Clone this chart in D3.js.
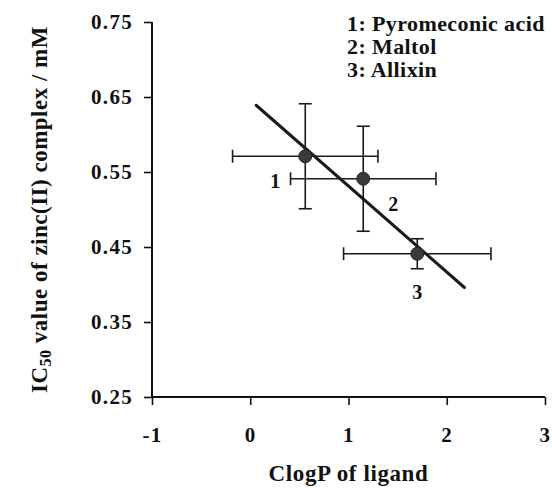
<!DOCTYPE html>
<html>
<head>
<meta charset="utf-8">
<script src="https://cdn.jsdelivr.net/npm/d3@7"></script>
<style>
  body { margin: 0; background: #fff; }
  svg text { font-family: "Liberation Serif", "Times New Roman", serif; font-weight: bold; fill: #111; }
</style>
</head>
<body>
<div id="chart"></div>
<script>
// data
var ligands = ["1", "2", "3"];
var ligandNames = ["Pyromeconic acid", "Maltol", "Allixin"];
var clogP = [0.56, 1.15, 1.70];
var clogPErr = [0.74, 0.74, 0.75];
var ic50 = [0.571, 0.541, 0.441];
var ic50Err = [0.070, 0.070, 0.020];
var fitX = [0.06, 2.18];
var fitY = [0.639, 0.396];
var xTicks = [-1, 0, 1, 2, 3];
var yTicks = [0.25, 0.35, 0.45, 0.55, 0.65, 0.75];

var width = 552, height = 488;
var margin = { left: 152, right: 7, top: 22, bottom: 91 };

var svg = d3.select("#chart")
	.append("svg")
	.attr("width", width)
	.attr("height", height);

var x = d3.scaleLinear()
	.domain([-1, 3])
	.range([margin.left, width - margin.right]);

var y = d3.scaleLinear()
	.domain([0.25, 0.75])
	.range([height - margin.bottom, margin.top]);

// axes (hyphen for the minus, as in the original)
var xAxis = svg.append("g")
	.attr("transform", "translate(0," + y(0.25) + ")")
	.call(d3.axisBottom(x).tickValues(xTicks).tickSize(8).tickPadding(22)
		.tickFormat(function(d) { return String(d); }));

var yAxis = svg.append("g")
	.attr("transform", "translate(" + x(-1) + ",0)")
	.call(d3.axisLeft(y).tickValues(yTicks).tickSize(8).tickPadding(11).tickFormat(d3.format(".2f")));

[xAxis, yAxis].forEach(function(a) {
	a.select(".domain").attr("stroke", "#111").attr("stroke-width", 2);
	a.selectAll(".tick line").attr("stroke", "#111").attr("stroke-width", 1.6);
	a.selectAll(".tick text")
		.attr("fill", "#111")
		.style("font-size", "21px")
		.style("letter-spacing", "1.3px")
		.style("font-family", "'Liberation Serif', serif")
		.style("font-weight", "bold");
});
// plain domain lines without end caps
xAxis.select(".domain").attr("d", "M" + x(-1) + ",0H" + x(3));
yAxis.select(".domain").attr("d", "M0," + y(0.25) + "V" + y(0.75));

// regression line
svg.append("line")
	.attr("x1", x(fitX[0])).attr("y1", y(fitY[0]))
	.attr("x2", x(fitX[1])).attr("y2", y(fitY[1]))
	.attr("stroke", "#1a1a1a")
	.attr("stroke-width", 3)
	.attr("stroke-linecap", "round");

var cap = 6.5;
var g = svg.append("g");

ligands.forEach(function(d, i) {
	var cx = x(clogP[i]), cy = y(ic50[i]);
	var x0 = x(clogP[i] - clogPErr[i]), x1 = x(clogP[i] + clogPErr[i]);
	var y0 = y(ic50[i] - ic50Err[i]), y1 = y(ic50[i] + ic50Err[i]);
	var bars = g.append("g").attr("stroke", "#1a1a1a").attr("stroke-width", 1.6);
	bars.append("line").attr("x1", x0).attr("x2", x1).attr("y1", cy).attr("y2", cy);
	bars.append("line").attr("x1", x0).attr("x2", x0).attr("y1", cy - cap).attr("y2", cy + cap);
	bars.append("line").attr("x1", x1).attr("x2", x1).attr("y1", cy - cap).attr("y2", cy + cap);
	bars.append("line").attr("x1", cx).attr("x2", cx).attr("y1", y0).attr("y2", y1);
	bars.append("line").attr("x1", cx - cap).attr("x2", cx + cap).attr("y1", y0).attr("y2", y0);
	bars.append("line").attr("x1", cx - cap).attr("x2", cx + cap).attr("y1", y1).attr("y2", y1);
});

g.selectAll("circle")
	.data(ligands)
	.enter()
	.append("circle")
	.attr("cx", function(d, i) { return x(clogP[i]); })
	.attr("cy", function(d, i) { return y(ic50[i]); })
	.attr("r", 6.5)
	.attr("fill", "#3a3a3a")
	.attr("stroke", "#222")
	.attr("stroke-width", 1);

// point numbers, offset from each marker
var labelOffset = [[-30, 32], [30, 32], [0, 45]];
g.selectAll("text.num")
	.data(ligands)
	.enter()
	.append("text")
	.attr("class", "num")
	.attr("x", function(d, i) { return x(clogP[i]) + labelOffset[i][0]; })
	.attr("y", function(d, i) { return y(ic50[i]) + labelOffset[i][1]; })
	.attr("text-anchor", "middle")
	.style("font-size", "20px")
	.text(function(d) { return d; });

// legend
svg.selectAll("text.leg")
	.data(ligands)
	.enter()
	.append("text")
	.attr("class", "leg")
	.attr("x", 347)
	.attr("y", function(d, i) { return 31 + i * 23; })
	.style("font-size", "22px")
	.style("letter-spacing", "0.4px")
	.text(function(d, i) { return d + ": " + ligandNames[i]; });

// axis titles
svg.append("text")
	.attr("x", x(1))
	.attr("y", 481)
	.attr("text-anchor", "middle")
	.style("font-size", "23px")
	.style("letter-spacing", "0.6px")
	.text("ClogP of ligand");

var yt = svg.append("text")
	.attr("transform", "translate(47," + y(0.5) + ") rotate(-90)")
	.attr("text-anchor", "middle")
	.style("font-size", "23px")
	.style("letter-spacing", "0.5px");
yt.append("tspan").text("IC");
yt.append("tspan").attr("dy", 4).style("font-size", "16px").text("50");
yt.append("tspan").attr("dy", -4).text(" value of zinc(II) complex / mM");
</script>
</body>
</html>
